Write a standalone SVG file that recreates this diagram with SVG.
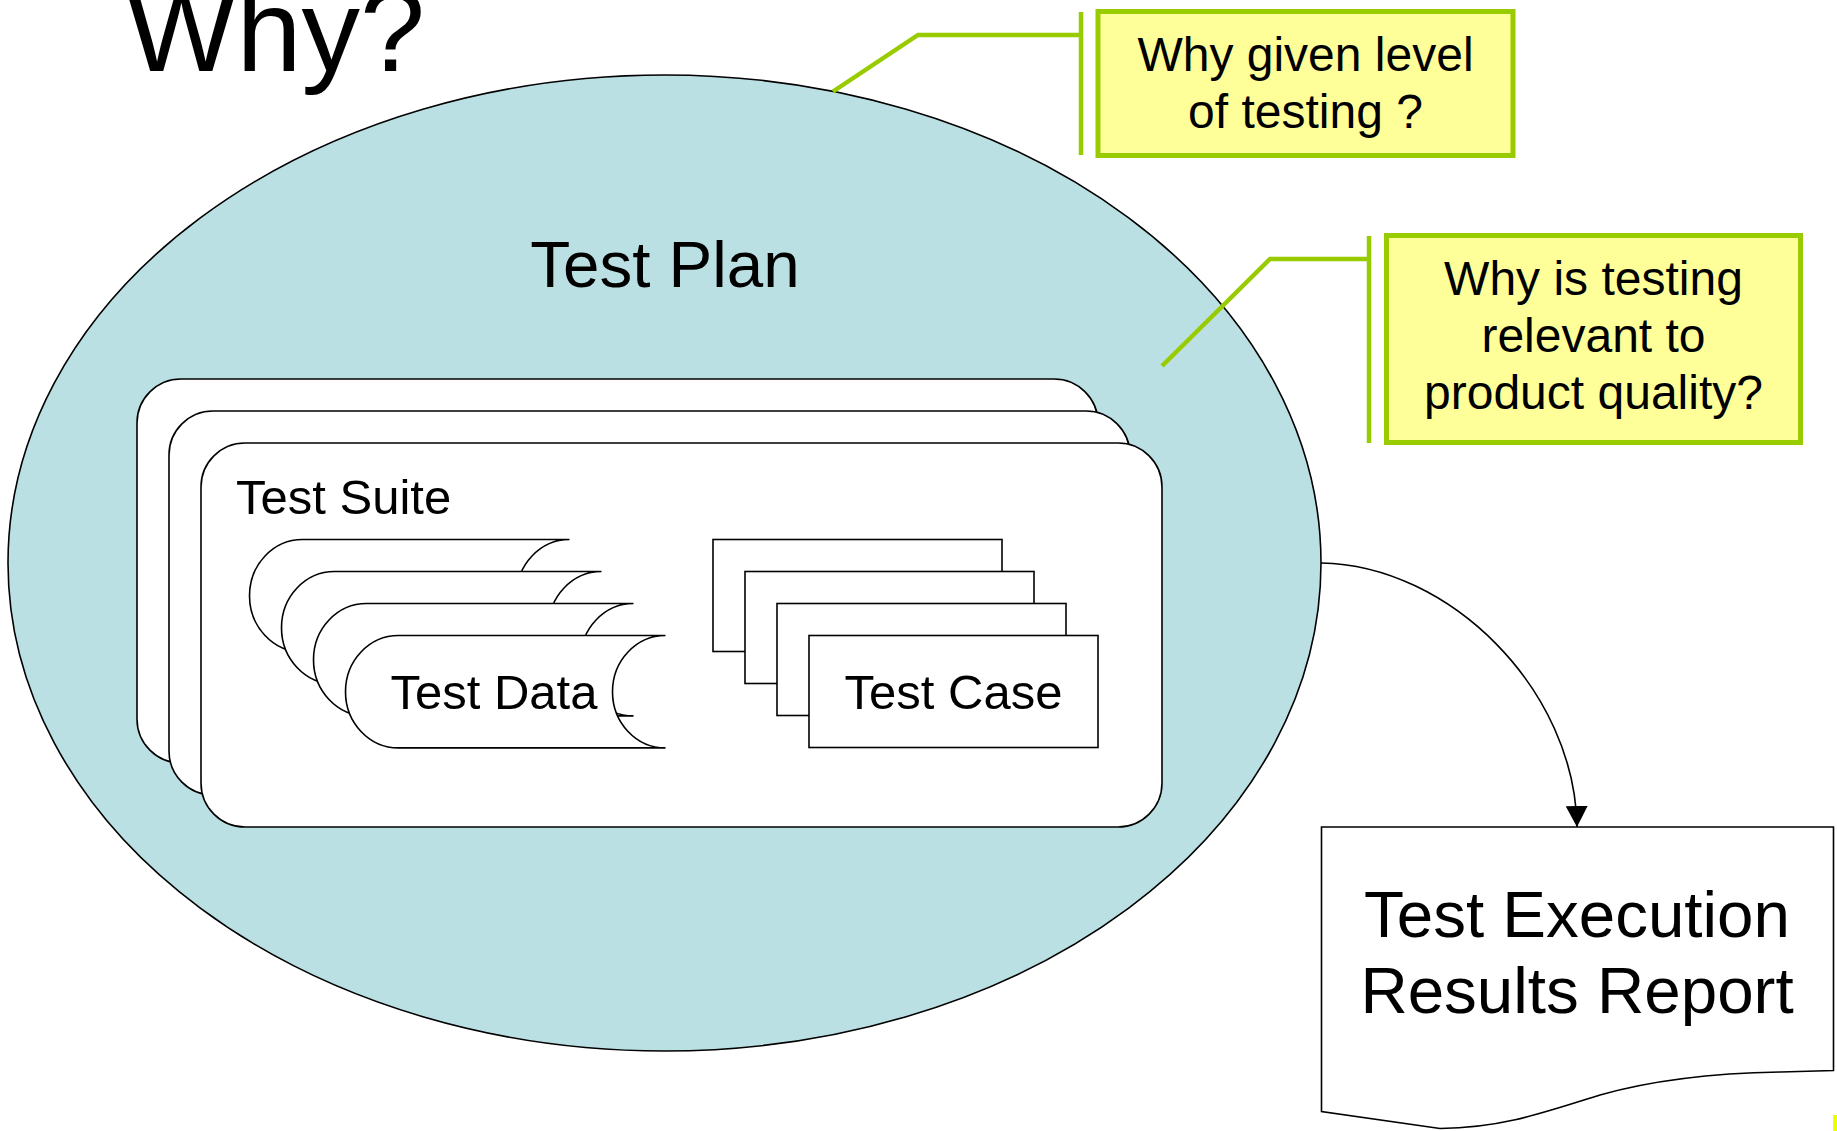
<svg xmlns="http://www.w3.org/2000/svg" width="1837" height="1131" viewBox="0 0 1837 1131">
<defs>
<style>
.t{font-family:"Liberation Sans",Arial,sans-serif;fill:#000}
.ol{fill:#fff;stroke:#000;stroke-width:1.6}
.call{fill:#FFFF99;stroke:#99CC00;stroke-width:5}
.lead{fill:none;stroke:#99CC00;stroke-width:4.5}
</style>
<marker id="arr" markerWidth="22" markerHeight="22" refX="21" refY="11" orient="auto" markerUnits="userSpaceOnUse">
<path d="M0 0 L21 11 L0 22 Z" fill="#000"/>
</marker>
<path id="td" d="M0 0 H267 A53 56.2 0 0 0 267 112.4 H0 A53 56.2 0 0 1 0 0 Z"/>
</defs>
<rect width="1837" height="1131" fill="#fff"/>

<g id="title">
<text class="t" x="126" y="71" font-size="117">Why?</text>
</g>

<g id="test-plan">
<ellipse cx="664.5" cy="563" rx="656.5" ry="488" fill="#BAE0E3" stroke="#000" stroke-width="1.6"/>
<text class="t" x="665" y="287" font-size="65.5" text-anchor="middle">Test Plan</text>
</g>

<g id="test-suites">
<rect class="ol" x="137" y="379" width="961" height="384" rx="44" ry="44"/>
<rect class="ol" x="169" y="411" width="961" height="384" rx="44" ry="44"/>
<rect class="ol" x="201" y="443" width="961" height="384" rx="44" ry="44"/>
<text class="t" x="236" y="514" font-size="49">Test Suite</text>
</g>

<g id="test-data">
<use href="#td" class="ol" x="302.5" y="539.5"/>
<use href="#td" class="ol" x="334.5" y="571.5"/>
<use href="#td" class="ol" x="366.5" y="603.5"/>
<use href="#td" class="ol" x="398.5" y="635.5"/>
<text class="t" x="390.5" y="708.5" font-size="49">Test Data</text>
</g>

<g id="test-cases">
<rect class="ol" x="713" y="539.5" width="289" height="112"/>
<rect class="ol" x="745" y="571.5" width="289" height="112"/>
<rect class="ol" x="777" y="603.5" width="289" height="112"/>
<rect class="ol" x="809" y="635.5" width="289" height="112"/>
<text class="t" x="953.5" y="708.5" font-size="49" text-anchor="middle">Test Case</text>
</g>

<g id="report">
<path class="ol" d="M1321.5 827 H1833.5 V1070.5 L1781 1072 C1720 1073 1660 1078 1600 1095 C1540 1114 1500 1128 1440 1128.5 L1321.5 1111.5 Z"/>
<text class="t" x="1577" y="937" font-size="65.5" text-anchor="middle">Test Execution</text>
<text class="t" x="1577" y="1013" font-size="65.5" text-anchor="middle">Results Report</text>
</g>

<g id="callout-level">
<rect class="call" x="1098" y="11.5" width="415" height="144"/>
<text class="t" x="1305.5" y="70.5" font-size="48" text-anchor="middle">Why given level</text>
<text class="t" x="1305.5" y="127.5" font-size="48" text-anchor="middle">of testing ?</text>
</g>

<g id="callout-quality">
<rect class="call" x="1386.5" y="235.5" width="414" height="207"/>
<text class="t" x="1593.5" y="295" font-size="48" text-anchor="middle">Why is testing</text>
<text class="t" x="1593.5" y="352" font-size="48" text-anchor="middle">relevant to</text>
<text class="t" x="1593.5" y="409" font-size="48" text-anchor="middle">product quality?</text>
</g>

<g id="connectors">
<path class="lead" d="M1081 12 V155 M1081 35 H918 L833 91.5"/>
<path class="lead" d="M1369 236 V443 M1369 259 H1270 L1162 366"/>
<path d="M1321 563 C1450 565 1575 690 1577 827" fill="none" stroke="#000" stroke-width="1.6" marker-end="url(#arr)"/>
</g>

<rect x="1833" y="1115" width="4" height="16" fill="#EEFF00"/>
</svg>
